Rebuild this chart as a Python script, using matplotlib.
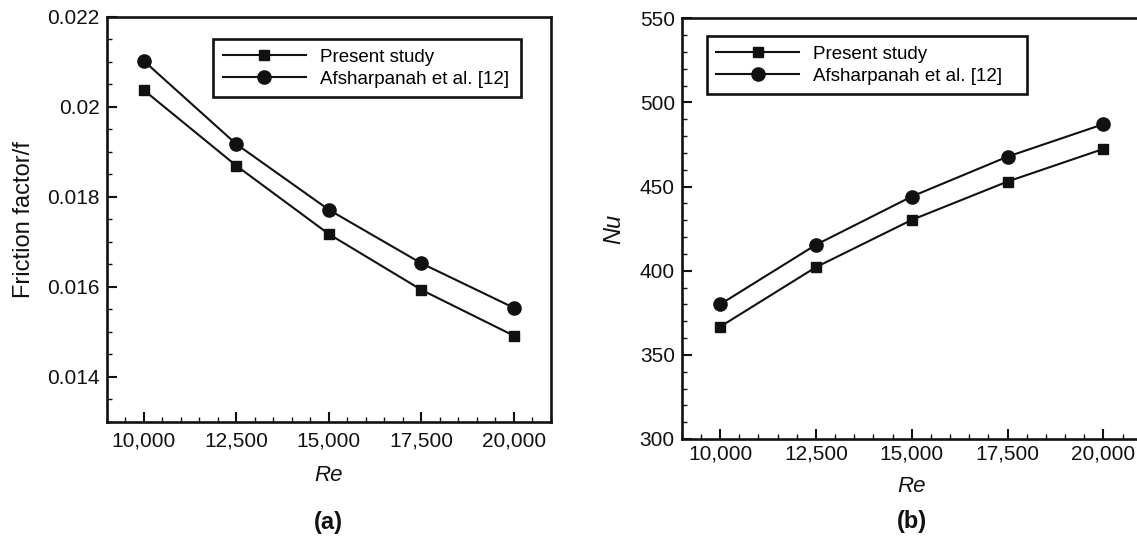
import numpy as np
import matplotlib
matplotlib.use("Agg")
import matplotlib.pyplot as plt
from matplotlib.ticker import MultipleLocator, FixedLocator, FixedFormatter

plt.rcParams['font.family'] = ['Liberation Sans', 'DejaVu Sans']

# --- data ---
re_values = [10000, 12500, 15000, 17500, 20000]

friction_present = [0.02037, 0.01869, 0.01717, 0.01593, 0.01491]
friction_afshar = [0.02102, 0.01917, 0.01771, 0.01652, 0.01553]

nu_present = [366.7, 402.1, 430.2, 453.0, 472.4]
nu_afshar = [380.0, 415.4, 444.1, 467.8, 487.1]

legend_labels = ["Present study", "Afsharpanah et al. [12]"]
x_ticks = [10000, 12500, 15000, 17500, 20000]
x_ticklabels = ["10,000", "12,500", "15,000", "17,500", "20,000"]
f_ticks = [0.014, 0.016, 0.018, 0.020, 0.022]
f_ticklabels = ["0.014", "0.016", "0.018", "0.02", "0.022"]
nu_ticks = [300, 350, 400, 450, 500, 550]

INK = '#111111'


def style_axis(ax, xpad):
    for side in ['left', 'bottom', 'top', 'right']:
        ax.spines[side].set_linewidth(1.9)
        ax.spines[side].set_color(INK)
    ax.set_xlim(9000, 21000)
    ax.xaxis.set_major_locator(FixedLocator(x_ticks))
    ax.xaxis.set_major_formatter(FixedFormatter(x_ticklabels))
    ax.xaxis.set_minor_locator(MultipleLocator(500))
    ax.tick_params(which='both', direction='in', top=False, right=False,
                   colors=INK, labelsize=15)
    ax.tick_params(which='major', length=7, width=1.5)
    ax.tick_params(which='minor', length=3.5, width=1.0)
    ax.tick_params(axis='x', which='major', pad=xpad)
    ax.tick_params(axis='y', which='major', pad=5)


def draw_series(ax, y_present, y_afshar, leg_x, leg_y, leg_w):
    h1, = ax.plot(re_values, y_present, '-s', color=INK, lw=1.5, ms=6.5,
                  clip_on=False)
    h2, = ax.plot(re_values, y_afshar, '-o', color=INK, lw=1.5, ms=9.5,
                  clip_on=False)
    leg = ax.legend([h1, h2], legend_labels, loc='upper left',
                    bbox_to_anchor=(leg_x, leg_y, leg_w, 0.0), mode='expand',
                    borderaxespad=0, fontsize=13.5, handlelength=4.4,
                    handletextpad=0.75, labelspacing=0.25, borderpad=0.52,
                    fancybox=False, framealpha=1, edgecolor=INK, numpoints=1)
    leg.get_frame().set_linewidth(1.9)


fig = plt.figure(figsize=(11.37, 5.37), dpi=100)

# --- (a) friction factor ---
ax1 = fig.add_axes([0.0938, 0.2147, 0.3908, 0.7542])
style_axis(ax1, xpad=7)
ax1.set_ylim(0.013, 0.022)
ax1.yaxis.set_major_locator(FixedLocator(f_ticks))
ax1.yaxis.set_major_formatter(FixedFormatter(f_ticklabels))
ax1.yaxis.set_minor_locator(MultipleLocator(0.0005))
draw_series(ax1, friction_present, friction_afshar, 0.24, 0.945, 0.692)
ax1.set_ylabel("Friction factor/f", fontsize=17, color=INK)
ax1.yaxis.set_label_coords(-0.185, 0.5)
ax1.yaxis.label.set_va('center')
ax1.set_xlabel("Re", fontsize=16, style='italic', color=INK)
ax1.xaxis.set_label_coords(0.5, -0.134)
ax1.xaxis.label.set_va('center')
ax1.text(0.5, -0.25, "(a)", transform=ax1.transAxes, ha='center',
         va='center', fontsize=17, fontweight='bold', color=INK)

# --- (b) Nusselt number ---
ax2 = fig.add_axes([0.5996, 0.1825, 0.4046, 0.7834])
style_axis(ax2, xpad=4)
ax2.set_ylim(300, 550)
ax2.yaxis.set_major_locator(FixedLocator(nu_ticks))
ax2.yaxis.set_minor_locator(MultipleLocator(10))
draw_series(ax2, nu_present, nu_afshar, 0.054, 0.958, 0.696)
ax2.set_ylabel("Nu", fontsize=17, style='italic', color=INK)
ax2.yaxis.set_label_coords(-0.147, 0.5)
ax2.yaxis.label.set_va('center')
ax2.set_xlabel("Re", fontsize=16, style='italic', color=INK)
ax2.xaxis.set_label_coords(0.5, -0.113)
ax2.xaxis.label.set_va('center')
ax2.text(0.5, -0.197, "(b)", transform=ax2.transAxes, ha='center',
         va='center', fontsize=17, fontweight='bold', color=INK)

fig.savefig("out.png", dpi=100)
